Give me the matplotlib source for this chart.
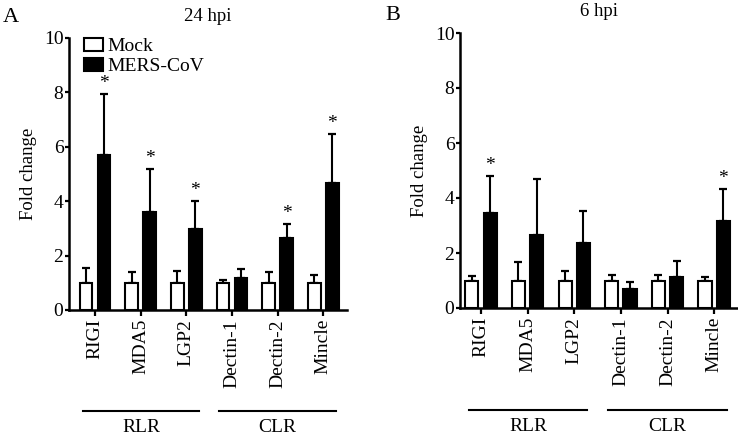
import matplotlib
matplotlib.use("Agg")
import matplotlib.pyplot as plt
import matplotlib.transforms as mtransforms
import numpy as np

plt.rcParams['font.family'] = ['Liberation Serif', 'DejaVu Serif']

genes = ["RIGI", "MDA5", "LGP2", "Dectin-1", "Dectin-2", "Mincle"]

# 24 hpi
mock_24 = [1.0, 1.0, 1.0, 1.0, 1.0, 1.0]
mock_24_err = [0.56, 0.41, 0.44, 0.10, 0.38, 0.28]
mers_24 = [5.71, 3.62, 2.99, 1.19, 2.63, 4.66]
mers_24_err = [2.22, 1.55, 1.01, 0.31, 0.54, 1.80]
star_24 = [True, True, True, False, True, True]

# 6 hpi
mock_6 = [1.0, 1.0, 1.0, 1.0, 1.0, 1.0]
mock_6_err = [0.15, 0.66, 0.33, 0.21, 0.21, 0.12]
mers_6 = [3.44, 2.67, 2.36, 0.69, 1.12, 3.15]
mers_6_err = [1.37, 2.02, 1.18, 0.26, 0.58, 1.18]
star_6 = [True, False, False, False, False, True]

groups = ["RLR", "CLR"]
group_spans = [(-0.26, 2.28), (2.72, 5.28)]

W, H = 738, 437
fig = plt.figure(figsize=(W / 100, H / 100), dpi=100)


def px_axes(left, right, top, bottom):
    return fig.add_axes([left / W, 1 - bottom / H, (right - left) / W, (bottom - top) / H])


def panel(ax, mock, mock_err, mers, mers_err, stars, title, xlim, legend=False):
    x = np.arange(len(genes))
    w = 0.28
    off = 0.196
    ax.bar(x - off, mock, w, color="white", edgecolor="black", linewidth=1.5,
           label="Mock", zorder=3)
    ax.bar(x + off, mers, w, color="black", edgecolor="black", linewidth=1.5,
           label="MERS-CoV", zorder=3)
    ax.errorbar(x - off, mock, yerr=[np.zeros(len(x)), mock_err], fmt="none",
                ecolor="black", elinewidth=1.5, capsize=3, capthick=1.6, zorder=2)
    ax.errorbar(x + off, mers, yerr=[np.zeros(len(x)), mers_err], fmt="none",
                ecolor="black", elinewidth=1.5, capsize=3, capthick=1.6, zorder=2)
    for i in range(len(x)):
        if stars[i]:
            ax.text(x[i] + off, mers[i] + mers_err[i] + 0.08, "*", ha="center",
                    va="bottom", fontsize=14)

    ax.set_xlim(*xlim)
    ax.set_ylim(0, 10)
    ax.set_yticks([0, 2, 4, 6, 8, 10])
    ax.set_xticks(x)
    ax.set_xticklabels(genes, rotation=90)
    ax.tick_params(axis="y", width=1.6, length=3, pad=1, labelsize=14)
    ax.tick_params(axis="x", width=1.6, length=4.5, pad=2, labelsize=14)
    for s in ["top", "right"]:
        ax.spines[s].set_visible(False)
    for s in ["left", "bottom"]:
        ax.spines[s].set_linewidth(1.8)
    ax.set_ylabel("Fold change", fontsize=13.5, labelpad=5)
    ax.set_title(title, fontsize=13.5, pad=12)

    trans = mtransforms.blended_transform_factory(ax.transData, ax.transAxes)
    for name, (a, b) in zip(groups, group_spans):
        ax.plot([a, b], [-0.371, -0.371], color="black", linewidth=1.5,
                transform=trans, clip_on=False)
        ax.text((a + b) / 2, -0.40, name, transform=trans, ha="center", va="top",
                fontsize=14)

    if legend:
        ax.legend(loc="upper left", bbox_to_anchor=(0.026, 1.03), frameon=False,
                  fontsize=14, handlelength=1.0, handleheight=0.65,
                  handletextpad=0.2, labelspacing=0.15, borderaxespad=0)


ax1 = px_axes(69, 347, 38, 310)
panel(ax1, mock_24, mock_24_err, mers_24, mers_24_err, star_24, "24 hpi",
      (-0.57, 5.52), legend=True)

ax2 = px_axes(460, 737, 33, 308)
panel(ax2, mock_6, mock_6_err, mers_6, mers_6_err, star_6, "6 hpi",
      (-0.45, 5.49))

fig.text(3 / W, 1 - 18 / H, "A", fontsize=16, ha="left", va="center")
fig.text(385 / W, 1 - 16 / H, "B", fontsize=16, ha="left", va="center")

fig.savefig("out.png", dpi=100)
